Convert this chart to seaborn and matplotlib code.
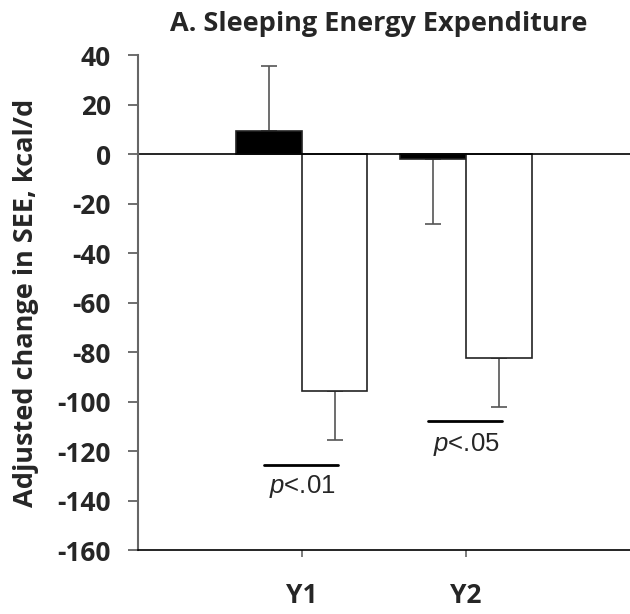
import matplotlib
matplotlib.use("Agg")
import matplotlib.pyplot as plt
import seaborn as sns
import pandas as pd

# --- data ---
years = ["Y1", "Y2"]
groups = ["Control", "Intervention"]
control_mean = [9.2, -2.0]
control_err = [26.5, 26.3]          # Y1 drawn upward, Y2 drawn downward
intervention_mean = [-95.8, -82.3]
intervention_err = [19.9, 20.0]     # drawn downward
p_labels = ["p<.01", "p<.05"]
p_line_y = [-125.5, -107.8]
p_text_y = [-134.5, -117.5]

df = pd.DataFrame({
    "year": years * 2,
    "group": [groups[0]] * 2 + [groups[1]] * 2,
    "value": control_mean + intervention_mean,
})

sns.set_style("white")
plt.rcParams["font.family"] = ["Open Sans", "DejaVu Sans"]
plt.rcParams["axes.unicode_minus"] = False
plt.rcParams["mathtext.fontset"] = "custom"
plt.rcParams["mathtext.it"] = "Liberation Sans:italic"
plt.rcParams["mathtext.rm"] = "Liberation Sans"

fig = plt.figure(figsize=(6.3, 6.14), dpi=100)
ax = fig.add_axes([0.2186, 0.1042, 0.7814, 0.8062])

sns.barplot(data=df, x="year", y="value", hue="group", order=years,
            hue_order=groups, palette=["black", "white"], errorbar=None,
            width=0.8, edgecolor="#222222", linewidth=1.2, legend=False, ax=ax)

ax.axhline(0, color="black", lw=1.2, zorder=1)

# error bars, one-sided
ctrl_bars, int_bars = ax.containers[0], ax.containers[1]
for i, bar in enumerate(ctrl_bars):
    cx = bar.get_x() + bar.get_width() / 2
    up = control_err[i] if control_mean[i] >= 0 else 0
    down = control_err[i] if control_mean[i] < 0 else 0
    ax.errorbar(cx, control_mean[i], yerr=[[down], [up]], fmt="none",
                ecolor="#555555", elinewidth=1.2, capsize=6, capthick=1.2, zorder=0)
for i, bar in enumerate(int_bars):
    cx = bar.get_x() + bar.get_width() / 2
    ax.errorbar(cx, intervention_mean[i], yerr=[[intervention_err[i]], [0]], fmt="none",
                ecolor="#555555", elinewidth=1.2, capsize=6, capthick=1.2, zorder=0)

# significance markers
for i, lab in enumerate(p_labels):
    ax.plot([i - 0.23, i + 0.22], [p_line_y[i], p_line_y[i]], color="black", lw=2)
    ax.text(i, p_text_y[i], "$\\it{p}$" + lab[1:], ha="center", va="center",
            fontsize=18.5, family="Liberation Sans")

ax.set_xlim(-1, 2)
ax.set_ylim(-160, 40)
ax.set_yticks(range(-160, 41, 20))
ax.set_xlabel("")
ax.set_ylabel("Adjusted change in SEE, kcal/d", fontsize=19.5, fontweight="bold", labelpad=13)
ax.set_title("A. Sleeping Energy Expenditure", fontsize=19.5, fontweight="bold", pad=17,
             x=0.49)

sns.despine(ax=ax)
ax.spines["left"].set_color("#666666")
ax.spines["left"].set_linewidth(1.5)
ax.spines["bottom"].set_color("black")
ax.spines["bottom"].set_linewidth(1.2)
ax.tick_params(axis="y", direction="out", length=7.2, width=1.2, color="#555555",
               left=True, labelsize=19, pad=12)
ax.tick_params(axis="x", direction="out", length=5, width=1.2, color="#666666",
               bottom=True, labelsize=19, pad=18)
for t in ax.get_yticklabels() + ax.get_xticklabels():
    t.set_fontweight("bold")

fig.savefig("out.png", dpi=100)
